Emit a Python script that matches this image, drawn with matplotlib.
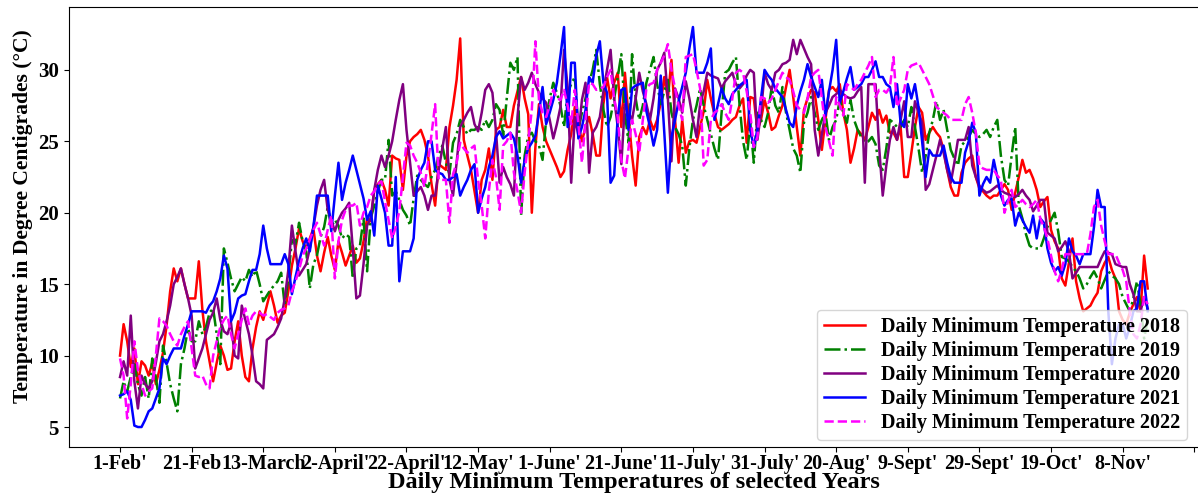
import matplotlib
matplotlib.use('Agg')
import matplotlib.pyplot as plt
import numpy as np

plt.rcParams['font.family'] = ['Liberation Serif', 'DejaVu Serif']
plt.rcParams['font.weight'] = 'bold'

# daily minimum temperatures, 1 Feb onward (one value per day)
t2018 = [10.0, 12.2, 11.0, 9.2, 10.5, 8.0, 9.6, 9.3, 8.6, 9.5,
         8.0, 9.0, 10.2, 12.1, 14.5, 16.1, 15.2, 16.1, 15.0, 14.0,
         14.0, 14.0, 16.6, 13.2, 11.0, 9.6, 8.2, 9.5, 10.7, 10.0,
         9.0, 9.1, 11.0, 12.4, 10.0, 8.5, 8.2, 10.5, 12.0, 13.1,
         12.5, 13.5, 14.5, 13.5, 12.3, 12.8, 13.0, 14.5, 16.3, 17.5,
         18.9, 18.0, 17.5, 18.2, 18.9, 17.0, 15.9, 17.2, 18.3, 17.0,
         16.0, 18.0, 17.2, 16.3, 17.0, 17.7, 16.5, 16.8, 18.0, 19.6,
         19.4, 21.6, 22.0, 22.3, 21.6, 20.5, 24.0, 23.8, 23.7, 21.6,
         24.0, 25.0, 25.3, 25.5, 25.8, 25.1, 24.0, 22.0, 20.5, 23.4,
         23.2, 23.0, 26.0, 27.5, 29.3, 32.2, 25.1, 24.0, 23.0, 21.5,
         20.0, 22.3, 23.0, 24.5, 22.3, 25.8, 26.0, 27.2, 26.0, 26.0,
         27.5, 28.5, 29.5, 28.0, 26.9, 20.0, 24.6, 27.6, 26.0, 25.0,
         24.4, 23.8, 23.2, 22.5, 22.9, 24.4, 25.5, 27.4, 26.2, 25.0,
         26.0, 26.7, 25.5, 24.0, 24.0, 27.6, 29.5, 28.0, 29.1, 29.8,
         26.0, 29.8, 26.8, 24.0, 21.9, 25.3, 26.0, 25.5, 26.5, 25.8,
         26.5, 27.7, 29.5, 28.0, 30.7, 26.5, 23.5, 26.5, 24.2, 25.0,
         25.1, 24.9, 26.0, 27.1, 29.3, 28.0, 26.9, 26.0, 25.8, 26.0,
         26.2, 26.5, 26.7, 27.5, 28.0, 24.9, 28.1, 28.0, 25.8, 26.5,
         27.9, 27.0, 25.8, 26.0, 26.8, 27.5, 28.8, 30.0, 28.1, 26.0,
         24.0, 27.2, 28.0, 28.6, 28.4, 26.5, 24.4, 26.5, 28.6, 28.8,
         28.5, 29.0, 27.0, 25.8, 23.5, 24.5, 25.8, 25.5, 25.1, 26.0,
         27.0, 26.5, 27.2, 26.3, 26.8, 25.6, 25.6, 25.1, 26.0, 22.5,
         22.5, 24.2, 26.0, 27.4, 27.0, 25.1, 25.6, 26.0, 25.6, 25.3,
         24.4, 23.0, 21.8, 21.2, 21.2, 22.8, 23.5, 23.8, 24.0, 22.5,
         21.7, 21.5, 21.2, 21.0, 21.2, 21.2, 21.6, 22.0, 21.6, 20.2,
         21.4, 22.5, 23.7, 22.8, 23.0, 22.4, 21.6, 20.4, 20.8, 21.1,
         18.8, 18.0, 17.5, 15.4, 14.9, 16.5, 18.2, 15.2, 14.0, 13.1,
         13.3, 13.5, 14.0, 14.4, 15.9, 16.5, 16.9, 16.0, 15.4, 13.1,
         12.5, 12.2, 13.0, 13.6, 14.1, 13.1, 17.0, 14.7]

t2019 = [7.0, 8.2, 7.5, 8.5, 9.4, 8.0, 7.2, 8.5, 7.0, 9.8,
         8.5, 6.7, 10.7, 9.5, 8.0, 7.0, 6.1, 9.4, 10.5, 11.9,
         11.0, 11.0, 12.4, 11.5, 12.0, 13.0, 13.3, 11.5, 9.4, 17.5,
         16.5, 15.4, 14.5, 15.0, 15.5, 15.2, 16.0, 15.5, 16.0, 15.0,
         13.8, 14.2, 14.6, 14.9, 15.2, 15.8, 13.5, 15.5, 18.1, 17.8,
         19.3, 18.0, 17.3, 14.7, 16.4, 17.0, 18.3, 19.0, 20.4, 19.0,
         19.5, 19.1, 18.2, 18.5, 18.3, 15.4, 17.5, 17.7, 19.6, 15.9,
         19.6, 20.5, 21.5, 22.3, 22.3, 25.1, 21.2, 21.5, 20.9, 20.2,
         19.8, 19.1, 21.0, 22.6, 22.3, 22.0, 21.8, 22.5, 23.0, 24.0,
         24.7, 23.5, 22.7, 24.9, 25.5, 26.5, 26.0, 25.5, 25.8, 25.8,
         26.0, 25.8, 26.5, 26.0, 26.5, 27.6, 27.2, 25.4, 28.0, 30.5,
         30.0, 30.9, 19.8, 24.0, 25.4, 25.6, 25.0, 24.7, 23.7, 26.5,
         28.0, 29.1, 28.4, 27.5, 26.0, 28.4, 29.0, 29.5, 25.8, 27.0,
         28.0, 29.1, 30.0, 31.4, 29.0, 27.2, 26.0, 26.7, 28.0, 29.5,
         31.1, 27.0, 24.9, 31.1, 28.0, 26.5, 27.5, 29.1, 30.0, 30.9,
         29.0, 27.6, 28.5, 29.3, 27.0, 26.0, 25.5, 24.7, 21.9, 24.5,
         26.5, 27.5, 28.7, 27.5, 26.5, 25.5, 24.5, 23.7, 27.0, 29.8,
         30.0, 30.5, 30.9, 27.6, 25.0, 23.7, 26.3, 23.5, 27.0, 26.5,
         26.0, 27.0, 28.8, 27.5, 27.0, 28.8, 27.0, 25.8, 24.5, 24.0,
         22.8, 26.3, 27.0, 28.1, 27.0, 25.8, 26.5, 27.0, 25.1, 26.0,
         26.5, 27.9, 27.0, 26.3, 27.9, 26.5, 25.8, 25.3, 24.9, 25.0,
         25.3, 24.8, 23.3, 23.0, 24.5, 26.5, 26.3, 26.0, 26.0, 26.5,
         26.0, 27.4, 26.0, 24.5, 22.8, 24.0, 25.6, 26.5, 27.8, 26.5,
         27.2, 25.8, 24.4, 23.8, 23.3, 24.7, 25.0, 25.3, 25.8, 25.5,
         25.3, 25.5, 25.8, 25.3, 26.0, 26.5, 24.0, 22.3, 21.9, 24.0,
         26.0, 20.5, 19.6, 18.5, 17.7, 17.5, 17.5, 17.5, 18.2, 19.0,
         19.5, 20.0, 18.7, 16.9, 16.8, 16.6, 16.2, 15.9, 15.4, 14.7,
         15.0, 15.5, 15.9, 15.4, 14.7, 15.3, 15.9, 15.6, 15.4, 15.0,
         14.1, 13.6, 13.1, 14.0, 15.2, 13.6, 11.2, 12.5]

t2020 = [8.5, 9.6, 8.6, 12.8, 8.2, 6.3, 8.6, 8.0, 7.7, 8.2,
         9.5, 11.0, 11.5, 12.4, 13.5, 15.0, 15.5, 16.1, 15.0, 14.0,
         12.8, 9.1, 9.8, 10.5, 11.5, 12.5, 13.0, 14.0, 12.5, 11.7,
         11.5, 12.3, 10.0, 9.8, 13.5, 12.5, 11.5, 10.0, 8.2, 8.0,
         7.7, 11.1, 11.3, 11.5, 12.0, 12.6, 14.0, 16.0, 19.1, 17.3,
         15.6, 16.0, 16.4, 17.5, 19.0, 20.5, 21.6, 22.3, 20.2, 19.5,
         18.7, 19.5, 20.0, 20.3, 20.7, 17.5, 14.0, 14.2, 16.4, 19.1,
         19.6, 21.6, 23.0, 24.0, 23.2, 24.0, 25.0, 26.5, 27.9, 29.0,
         25.8, 23.5, 21.2, 21.5, 21.8, 21.2, 20.2, 21.2, 21.2, 23.0,
         24.5, 26.0, 22.3, 21.2, 23.5, 26.0, 26.5, 27.0, 27.4, 26.2,
         25.7, 27.0, 28.6, 29.0, 28.4, 25.7, 22.1, 23.2, 22.5, 22.0,
         21.2, 26.7, 29.5, 28.6, 29.1, 29.8, 29.0, 28.4, 28.0, 27.7,
         26.5, 25.2, 26.2, 27.4, 31.4, 28.8, 22.1, 26.7, 25.4, 27.9,
         29.1, 22.8, 25.6, 26.0, 26.7, 28.5, 30.0, 31.4, 28.0, 26.0,
         23.4, 27.6, 27.0, 26.5, 28.0, 29.8, 28.5, 27.6, 26.5, 28.0,
         30.0, 30.5, 31.2, 28.0, 23.6, 28.7, 28.0, 27.0, 29.2, 28.0,
         26.5, 25.3, 27.6, 28.5, 29.8, 29.6, 29.5, 29.4, 28.7, 29.2,
         29.5, 29.8, 29.0, 28.7, 29.0, 29.6, 30.0, 29.8, 25.1, 27.0,
         29.8, 29.0, 28.6, 29.8, 30.0, 30.4, 30.5, 30.7, 32.1, 31.1,
         32.1, 31.5, 30.9, 30.4, 25.8, 24.0, 25.5, 27.0, 27.5, 28.1,
         28.3, 28.6, 28.3, 28.1, 28.0, 28.1, 28.5, 28.8, 22.1, 29.0,
         29.0, 29.0, 24.6, 21.2, 23.3, 25.1, 26.0, 25.1, 26.5, 27.8,
         25.3, 25.3, 27.8, 27.0, 26.3, 21.6, 22.0, 23.0, 24.0, 25.1,
         24.2, 23.0, 22.1, 23.5, 25.1, 25.1, 25.1, 26.0, 23.3, 22.5,
         21.9, 21.6, 21.4, 21.5, 21.7, 21.9, 21.6, 21.4, 21.3, 21.2,
         21.1, 21.3, 21.6, 21.2, 20.9, 20.1, 20.5, 20.9, 20.9, 18.6,
         18.4, 18.2, 17.3, 17.6, 18.0, 17.3, 15.4, 15.8, 16.2, 16.2,
         16.2, 16.2, 16.2, 16.2, 16.8, 17.3, 17.2, 17.1, 16.4, 16.3,
         16.2, 16.2, 15.0, 14.3, 13.1, 13.1, 14.1, 13.3]

t2021 = [7.2, 7.3, 7.5, 6.9, 5.1, 5.0, 5.0, 5.5, 6.1, 6.3,
         7.0, 7.7, 9.8, 9.4, 10.0, 10.5, 10.5, 10.5, 11.4, 12.2,
         13.1, 13.1, 13.1, 13.1, 13.0, 13.5, 13.8, 14.5, 15.4, 17.0,
         16.1, 12.4, 13.0, 14.0, 14.2, 14.3, 15.2, 16.0, 16.0, 17.1,
         19.1, 17.5, 16.4, 16.4, 16.4, 16.4, 17.1, 16.4, 14.3, 15.5,
         16.6, 17.5, 18.2, 17.3, 19.0, 21.2, 21.2, 21.2, 21.2, 18.7,
         21.2, 23.5, 20.9, 22.1, 23.0, 24.0, 23.0, 22.0, 21.0, 19.5,
         20.1, 18.4, 21.9, 21.0, 20.0, 17.7, 17.7, 22.5, 15.2, 17.3,
         17.3, 17.3, 18.2, 22.3, 23.0, 23.5, 25.0, 25.0, 23.0, 22.8,
         22.7, 22.3, 22.3, 22.5, 22.7, 21.2, 21.8, 22.3, 23.0, 23.4,
         20.0, 21.0, 21.8, 23.2, 24.0, 25.3, 25.7, 25.2, 25.4, 25.6,
         25.2, 24.0, 22.1, 23.7, 24.5, 24.9, 25.4, 27.0, 28.8, 26.2,
         27.0, 27.9, 29.1, 31.0, 33.0, 26.0, 30.5, 30.5, 25.2, 26.0,
         27.2, 29.5, 29.1, 31.0, 32.0, 29.1, 28.4, 22.1, 22.6, 26.7,
         28.6, 28.7, 25.8, 28.7, 28.9, 29.0, 29.1, 27.1, 26.0, 24.7,
         25.8, 29.6, 25.6, 21.4, 25.3, 26.5, 27.8, 28.8, 29.8, 31.5,
         33.0, 29.8, 29.8, 29.8, 30.5, 31.5, 26.5, 27.6, 28.7, 28.0,
         27.6, 28.3, 28.6, 28.9, 29.1, 29.3, 25.8, 24.6, 25.8, 28.0,
         30.0, 29.6, 29.3, 28.7, 28.4, 28.1, 27.2, 26.3, 26.0, 27.5,
         28.5, 29.3, 30.4, 29.5, 28.8, 28.1, 29.3, 26.8, 28.5, 30.0,
         32.1, 27.7, 28.5, 29.4, 30.2, 28.6, 28.8, 29.0, 29.5, 29.5,
         30.0, 30.6, 29.5, 29.5, 29.0, 28.8, 27.4, 29.0, 26.3, 26.0,
         29.0, 28.0, 29.0, 27.4, 25.0, 22.5, 24.4, 24.0, 24.0, 24.0,
         24.7, 23.5, 22.5, 22.1, 22.1, 22.1, 24.2, 25.0, 26.3, 25.6,
         21.2, 22.0, 22.5, 22.1, 23.7, 22.5, 21.2, 20.5, 20.9, 21.0,
         19.1, 20.0, 19.5, 19.0, 18.6, 19.8, 18.2, 19.6, 19.3, 17.5,
         16.5, 15.9, 16.2, 15.6, 16.4, 18.2, 17.3, 17.0, 16.4, 17.1,
         17.1, 17.1, 19.0, 21.6, 20.4, 20.4, 13.1, 9.4, 11.2, 12.2,
         12.2, 11.2, 12.0, 13.1, 13.3, 15.2, 15.2, 13.1]

t2022 = [9.8, 8.6, 5.6, 8.0, 11.0, 9.0, 8.0, 7.2, 7.5, 7.7,
         10.0, 12.6, 12.4, 12.1, 11.5, 11.0, 10.7, 11.5, 12.0, 12.4,
         10.5, 8.6, 8.5, 8.6, 8.0, 7.7, 10.0, 11.0, 12.0, 12.5,
         12.8, 11.5, 10.5, 11.5, 12.5, 13.3, 12.2, 12.8, 13.1, 13.0,
         12.8, 12.9, 12.7, 12.5, 13.0, 13.2, 13.3, 13.5, 14.5, 15.2,
         16.0, 17.0, 17.5, 18.1, 18.8, 19.3, 18.5, 17.7, 18.8, 19.8,
         15.4, 18.0, 19.5, 20.2, 20.5, 20.5, 20.7, 19.1, 20.0, 20.4,
         21.2, 21.5, 22.0, 22.2, 20.8, 19.5, 18.2, 19.0, 20.1, 22.5,
         24.9, 24.7, 24.0, 23.5, 22.8, 21.8, 23.5, 25.5, 27.6, 22.3,
         22.3, 22.3, 19.3, 22.7, 23.5, 24.9, 24.5, 24.2, 24.5, 24.7,
         22.3, 20.5, 18.2, 21.5, 23.7, 22.5, 20.2, 24.7, 25.0, 25.6,
         22.8, 21.5, 20.0, 22.8, 25.0, 27.2, 32.0, 27.9, 27.0, 26.7,
         27.5, 28.6, 28.0, 27.9, 28.6, 27.5, 26.2, 28.6, 26.2, 23.5,
         26.5, 29.1, 29.0, 28.6, 28.7, 28.8, 29.5, 30.0, 28.0, 26.7,
         23.7, 22.4, 24.5, 26.5, 25.5, 24.2, 26.5, 28.7, 29.0, 29.1,
         30.0, 30.5, 31.0, 31.8, 30.0, 28.7, 27.5, 26.5, 30.9, 31.0,
         31.1, 30.0, 28.7, 23.3, 23.7, 26.5, 27.0, 27.2, 27.6, 27.0,
         26.5, 28.0, 29.8, 30.0, 29.8, 28.5, 27.0, 24.6, 25.3, 28.1,
         28.0, 27.7, 28.0, 28.6, 29.2, 29.8, 29.5, 29.3, 28.5, 27.5,
         27.2, 27.0, 28.0, 29.5, 29.8, 30.0, 28.0, 26.0, 25.0, 24.0,
         28.1, 27.5, 26.8, 29.0, 28.8, 28.6, 29.0, 29.3, 29.8, 30.3,
         30.9, 28.1, 28.6, 28.6, 28.4, 28.8, 30.9, 27.4, 28.0, 28.6,
         30.0, 30.3, 30.4, 30.5, 30.0, 29.5, 29.0, 28.2, 27.4, 27.2,
         27.0, 26.8, 26.5, 26.5, 26.5, 26.5, 27.6, 28.1, 27.0, 25.6,
         23.3, 23.1, 23.0, 23.0, 23.0, 22.6, 22.3, 20.0, 20.8, 21.6,
         20.4, 20.6, 20.9, 20.6, 20.4, 20.6, 20.9, 19.6, 19.0, 18.2,
         17.0, 15.9, 15.2, 16.0, 17.1, 17.1, 17.1, 17.1, 17.1, 17.1,
         17.1, 18.5, 20.4, 20.9, 19.1, 18.0, 17.1, 17.1, 17.1, 16.5,
         16.0, 15.2, 13.1, 11.5, 11.2, 12.2, 14.1, 13.6]

series = [t2018, t2019, t2020, t2021, t2022]
years = ['2018', '2019', '2020', '2021', '2022']
colors = ['red', 'green', 'purple', 'blue', 'magenta']
styles = ['-', '-.', '-', '-', '--']

tick_days = list(range(0, 301, 20))
tick_labels = ["1-Feb'", "21-Feb", "13-March", "2-April'", "22-April'", "12-May'",
               "1-June'", "21-June'", "11-July'", "31-July'", "20-Aug'", "9-Sept'",
               "29-Sept'", "19-Oct'", "8-Nov'", ""]

fig = plt.figure(figsize=(11.98, 4.94), dpi=100)
ax = fig.add_axes([0.0573, 0.0951, 0.9436, 0.8907])

for vals, yr, c, ls in zip(series, years, colors, styles):
    days = np.arange(len(vals))
    ax.plot(days, vals, color=c, linestyle=ls, linewidth=1.8,
            label='Daily Minimum Temperature ' + yr)

ax.set_xticks(tick_days)
ax.set_xticklabels(tick_labels, fontsize=14.5, fontweight='bold')
ax.tick_params(axis='x', pad=1.5)
ax.set_yticks([5, 10, 15, 20, 25, 30])
ax.tick_params(axis='y', labelsize=15)
for lab in ax.get_yticklabels():
    lab.set_fontweight('bold')

ax.set_xlabel('Daily Minimum Temperatures of selected Years', fontsize=17.5,
              fontweight='bold', labelpad=-1.5)
ax.set_ylabel('Temperature in Degree Centigrades (\u00b0C)', fontsize=15.6,
              fontweight='bold')
ax.yaxis.set_label_coords(-0.0315, 0.525)

ax.legend(loc='lower right', bbox_to_anchor=(0.9894, 0.016), borderaxespad=0,
          prop={'size': 14.5, 'weight': 'bold'}, labelspacing=0.2,
          borderpad=0.35)

fig.savefig('out.png', dpi=100)
